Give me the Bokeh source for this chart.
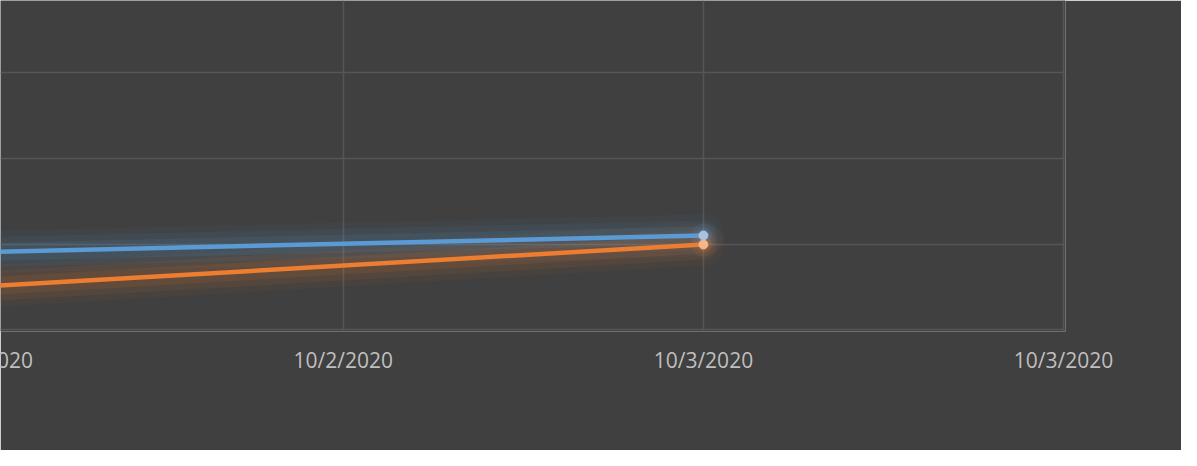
from bokeh.plotting import figure
from bokeh.models import FixedTicker, Range1d, Label
from bokeh.embed import file_html
from bokeh.resources import INLINE

# ---- data ----
tick_positions = [0, 1, 2, 3]
tick_labels = ["10/1/2020", "10/2/2020", "10/3/2020", "10/3/2020"]
x_points = [0, 2]
blue_values = [9.08, 11.02]
orange_values = [5.05, 9.96]
y_ticks = [0, 10, 20, 30, 40]

BG = "#404040"
GRID = "#565656"
LABEL = "#bfbfbf"
BLUE = "#5b9bd5"
ORANGE = "#ed7d31"

p = figure(width=1181, height=450, output_backend="svg", toolbar_location=None,
           x_range=Range1d(0.048, 3.0055), y_range=Range1d(-0.2, 38.47),
           y_axis_location=None, min_border_left=0, min_border_top=0,
           min_border_right=116, min_border_bottom=119)

p.background_fill_color = BG
p.border_fill_color = BG
p.outline_line_color = None

p.xaxis.ticker = FixedTicker(ticks=tick_positions)
p.xaxis.major_label_overrides = {t: l for t, l in zip(tick_positions, tick_labels)}
p.xaxis.axis_line_color = None
p.xaxis.major_tick_line_color = None
p.xaxis.minor_tick_line_color = None
p.xaxis.major_label_text_color = LABEL
p.xaxis.major_label_text_font = "Open Sans"
p.xaxis.major_label_text_font_size = "21px"
p.xaxis.major_label_standoff = 8

p.xgrid.ticker = FixedTicker(ticks=tick_positions)
p.ygrid.ticker = FixedTicker(ticks=y_ticks)
p.xgrid.grid_line_color = GRID
p.ygrid.grid_line_color = GRID
p.xgrid.grid_line_width = 1.5
p.ygrid.grid_line_width = 1.5

# glow
for w, a in [(42, 0.05), (30, 0.07), (18, 0.10)]:
    p.line(x_points, blue_values, line_color=BLUE, line_width=w, line_alpha=a, line_cap="round")
    p.line(x_points, orange_values, line_color=ORANGE, line_width=w, line_alpha=a, line_cap="round")

p.line(x_points, blue_values, line_color=BLUE, line_width=4.5)
p.line(x_points, orange_values, line_color=ORANGE, line_width=4.5)

# marker glow + markers at last point
for w, a in [(24, 0.10), (15, 0.15)]:
    p.scatter(x_points[-1:], blue_values[-1:], size=w, fill_color=BLUE, fill_alpha=a, line_color=None)
    p.scatter(x_points[-1:], orange_values[-1:], size=w, fill_color=ORANGE, fill_alpha=a, line_color=None)
p.scatter(x_points, blue_values, size=9, fill_color="#a9c3df", line_color="#a9c3df")
p.scatter(x_points, orange_values, size=9, fill_color="#f7b58a", line_color="#f7b58a")

# first tick label (its tick lies just left of the visible range); placed in a side
# panel so that it is not clipped to the plot frame
lbl = Label(x=tick_positions[0], y=0, x_units="data", y_units="data", text=tick_labels[0],
            text_align="center", text_baseline="top", y_offset=-16,
            text_color=LABEL, text_font="Open Sans", text_font_size="21px")
p.add_layout(lbl, "below")

open("out.html", "w").write(file_html(p, INLINE))
